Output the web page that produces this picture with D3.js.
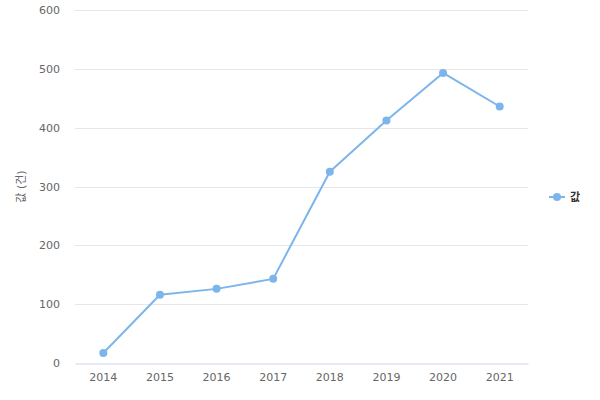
<!DOCTYPE html>
<html><head><meta charset="utf-8">
<script src="https://cdn.jsdelivr.net/npm/d3@7"></script>
<style>body{margin:0;background:#fff}svg{display:block}svg text{font-family:"DejaVu Sans","Noto Sans CJK KR",sans-serif}</style>
</head><body><svg id="c" width="600" height="400"></svg>
<script>
const categories = ["2014","2015","2016","2017","2018","2019","2020","2021"];
const values = [17, 116, 126, 143, 325, 412, 493, 436];
const yTicks = [0,100,200,300,400,500,600];
const seriesName = "값";
const yTitle = "값 (건)";

const svg = d3.select("#c");
const m = {l:75, r:528, t:10, b:363};
const x = d3.scaleBand().domain(categories).range([m.l, m.r]);
const y = d3.scaleLinear().domain([0,600]).range([m.b, m.t]);

svg.append("g").selectAll("line").data(yTicks.filter(d=>d>0)).join("line")
  .attr("x1", m.l).attr("x2", m.r)
  .attr("y1", d=>Math.round(y(d))+0.5).attr("y2", d=>Math.round(y(d))+0.5)
  .attr("stroke","#e6e6e6");

const yAxis = svg.append("g").attr("transform",`translate(${m.l},0)`)
  .call(d3.axisLeft(y).tickValues(yTicks).tickSize(0).tickPadding(15));
yAxis.select(".domain").remove();
yAxis.selectAll("text").attr("fill","#666").style("font-size","11px");

const xAxis = svg.append("g").attr("transform",`translate(0,${m.b+0.5})`)
  .call(d3.axisBottom(x).tickSize(0).tickPadding(10));
xAxis.select(".domain").attr("stroke","#ccd6eb");
xAxis.selectAll("text").attr("fill","#666").style("font-size","11px");

svg.append("text").attr("transform",`translate(25,${(m.t+m.b)/2}) rotate(-90)`)
  .attr("text-anchor","middle").attr("fill","#666").style("font-size","11px").text(yTitle);

const cx = d => x(d) + x.bandwidth()/2;
const line = d3.line().x((d,i)=>cx(categories[i])).y(d=>y(d));
svg.append("path").datum(values).attr("d", line).attr("fill","none")
  .attr("stroke","#7cb5ec").attr("stroke-width",2).attr("stroke-linejoin","round");
svg.append("g").selectAll("circle").data(values).join("circle")
  .attr("cx",(d,i)=>cx(categories[i])).attr("cy",d=>y(d)).attr("r",4).attr("fill","#7cb5ec");

const lg = svg.append("g").attr("transform","translate(549,197)");
lg.append("line").attr("x1",0).attr("x2",16).attr("stroke","#7cb5ec").attr("stroke-width",2);
lg.append("circle").attr("cx",8).attr("r",4).attr("fill","#7cb5ec");
lg.append("text").attr("x",21).attr("dy","0.35em").attr("fill","#333")
  .style("font-size","11px").style("font-weight","bold").text(seriesName);
</script></body></html>
